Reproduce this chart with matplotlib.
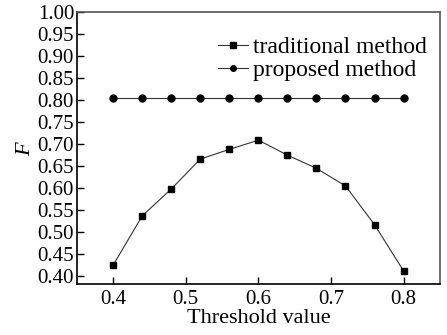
import matplotlib
matplotlib.use('agg')
import matplotlib.pyplot as plt

plt.rcParams['font.family'] = ['Liberation Serif', 'DejaVu Serif']
plt.rcParams['mathtext.fontset'] = 'custom'
plt.rcParams['mathtext.it'] = 'Liberation Serif:italic'

threshold = [0.40, 0.44, 0.48, 0.52, 0.56, 0.60, 0.64, 0.68, 0.72, 0.76, 0.80]
traditional = [0.425, 0.537, 0.598, 0.666, 0.688, 0.709, 0.675, 0.645, 0.605, 0.517, 0.412]
proposed = [0.805] * 11

fig = plt.figure(figsize=(4.47, 3.35), dpi=100)
ax = fig.add_axes([0.172, 0.152, 0.812, 0.812])

ax.plot(threshold, traditional, color='#333333', lw=0.8, marker='s', ms=5,
        mfc='black', mec='black', label='traditional method')
ax.plot(threshold, proposed, color='#333333', lw=0.8, marker='o', ms=5,
        mfc='black', mec='black', label='proposed method')

ax.set_xlim(0.35, 0.85)
ax.set_ylim(0.382, 1.0)
ax.set_xticks([0.4, 0.5, 0.6, 0.7, 0.8])
ax.set_yticks([0.40 + 0.05 * i for i in range(13)])
ax.set_yticklabels([f'{0.40 + 0.05 * i:.2f}' for i in range(13)])
ax.tick_params(direction='in', length=5, width=1, labelsize=15, top=False, right=False, pad=2)
ax.tick_params(axis='x', pad=4)

for s in ['left', 'bottom']:
    ax.spines[s].set_linewidth(1.2)
for s in ['top', 'right']:
    ax.spines[s].set_linewidth(1.2)
    ax.spines[s].set_color('#555555')

ax.set_xlabel('Threshold value', fontsize=16)
ax.xaxis.set_label_coords(0.5, -0.09)
ax.set_ylabel('$F$', fontsize=16, labelpad=2)

ax.legend(loc='upper right', bbox_to_anchor=(1.01, 0.97), frameon=False, fontsize=17,
          handlelength=1.3, handletextpad=0.2, labelspacing=0.05, markerscale=0.8,
          borderpad=0.2)

fig.savefig('out.png', dpi=100)
